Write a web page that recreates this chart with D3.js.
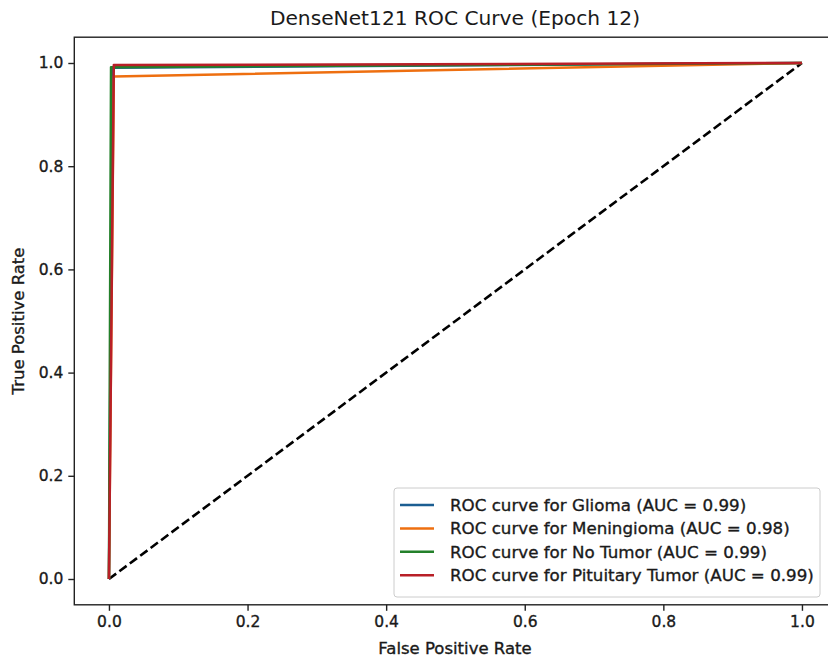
<!DOCTYPE html>
<html>
<head>
<meta charset="utf-8">
<script src="https://cdn.jsdelivr.net/npm/d3@7"></script>
<style>
  body { margin: 0; background: #fff; }
  text { font-family: "DejaVu Sans", sans-serif; fill: #1a1a1a; }
  .heavy { stroke: #1a1a1a; stroke-width: 0.35px; }
</style>
</head>
<body>
<div id="chart"></div>
<script>
// ROC data
const classNames = ["Glioma", "Meningioma", "No Tumor", "Pituitary Tumor"];
const aucValues = [0.99, 0.98, 0.99, 0.99];
const colors = ["#1b5e92", "#ee6f10", "#23802a", "#b81f27"];
const fprValues = [
  [0, 0.005, 1],
  [0, 0.007, 1],
  [0, 0.003, 1],
  [0, 0.007, 1]
];
const tprValues = [
  [0, 0.991, 1],
  [0, 0.974, 1],
  [0, 0.992, 1],
  [0, 0.996, 1]
];
const ticks = [0, 0.2, 0.4, 0.6, 0.8, 1.0];

const width = 828, height = 661;
const svg = d3.select("#chart").append("svg")
  .attr("width", width)
  .attr("height", height);

// plot area (domain -0.05..1.05 like matplotlib)
const x = d3.scaleLinear().domain([-0.05, 1.05]).range([74.3, 836.6]);
const y = d3.scaleLinear().domain([-0.05, 1.05]).range([604.8, 37.2]);

const line = d3.line().x(d => x(d[0])).y(d => y(d[1]));

// diagonal
svg.append("path")
  .datum([[0, 0], [1, 1]])
  .attr("d", line)
  .attr("fill", "none")
  .attr("stroke", "#000")
  .attr("stroke-width", 2.6)
  .attr("stroke-dasharray", "9,4");

// curves
classNames.forEach((name, i) => {
  const pts = fprValues[i].map((f, j) => [f, tprValues[i][j]]);
  svg.append("path")
    .datum(pts)
    .attr("d", line)
    .attr("fill", "none")
    .attr("stroke", colors[i])
    .attr("stroke-width", 2.5)
    .attr("stroke-linejoin", "round");
});

// frame
svg.append("rect")
  .attr("x", x(-0.05)).attr("y", y(1.05))
  .attr("width", x(1.05) - x(-0.05))
  .attr("height", y(-0.05) - y(1.05))
  .attr("fill", "none")
  .attr("stroke", "#222")
  .attr("stroke-width", 1.4);

// axes
const xAxis = svg.append("g")
  .attr("transform", `translate(0,${y(-0.05)})`)
  .call(d3.axisBottom(x).tickValues(ticks).tickFormat(d3.format(".1f")).tickSizeOuter(0).tickSize(6).tickPadding(5));
const yAxis = svg.append("g")
  .attr("transform", `translate(${x(-0.05)},0)`)
  .call(d3.axisLeft(y).tickValues(ticks).tickFormat(d3.format(".1f")).tickSizeOuter(0).tickSize(6).tickPadding(5));
[xAxis, yAxis].forEach(g => {
  g.select(".domain").remove();
  g.selectAll("line").attr("stroke", "#222").attr("stroke-width", 1.4);
  g.selectAll("text")
    .attr("class", "heavy")
    .style("font-family", "'DejaVu Sans', sans-serif")
    .style("font-size", "15.5px")
    .attr("fill", "#1a1a1a");
});

// labels
svg.append("text")
  .attr("x", 455).attr("y", 25)
  .attr("text-anchor", "middle")
  .style("font-size", "20.2px")
  .text("DenseNet121 ROC Curve (Epoch 12)");

svg.append("text")
  .attr("class", "heavy")
  .attr("x", 455).attr("y", 654)
  .attr("text-anchor", "middle")
  .style("font-size", "16.5px")
  .text("False Positive Rate");

svg.append("text")
  .attr("class", "heavy")
  .attr("transform", `translate(24,${(37 + 605) / 2}) rotate(-90)`)
  .attr("text-anchor", "middle")
  .style("font-size", "16.5px")
  .text("True Positive Rate");

// legend
const legend = svg.append("g").attr("transform", "translate(394,488)");
legend.append("rect")
  .attr("width", 426).attr("height", 109)
  .attr("rx", 3)
  .attr("fill", "#fff")
  .attr("fill-opacity", 0.8)
  .attr("stroke", "#ccc");
classNames.forEach((name, i) => {
  const ly = 17 + i * 23.4;
  legend.append("line")
    .attr("x1", 6).attr("x2", 40)
    .attr("y1", ly).attr("y2", ly)
    .attr("stroke", colors[i]).attr("stroke-width", 2.5);
  legend.append("text")
    .attr("class", "heavy")
    .attr("x", 56).attr("y", ly + 6)
    .style("font-size", "16.7px")
    .text(`ROC curve for ${name} (AUC = ${aucValues[i].toFixed(2)})`);
});
</script>
</body>
</html>
